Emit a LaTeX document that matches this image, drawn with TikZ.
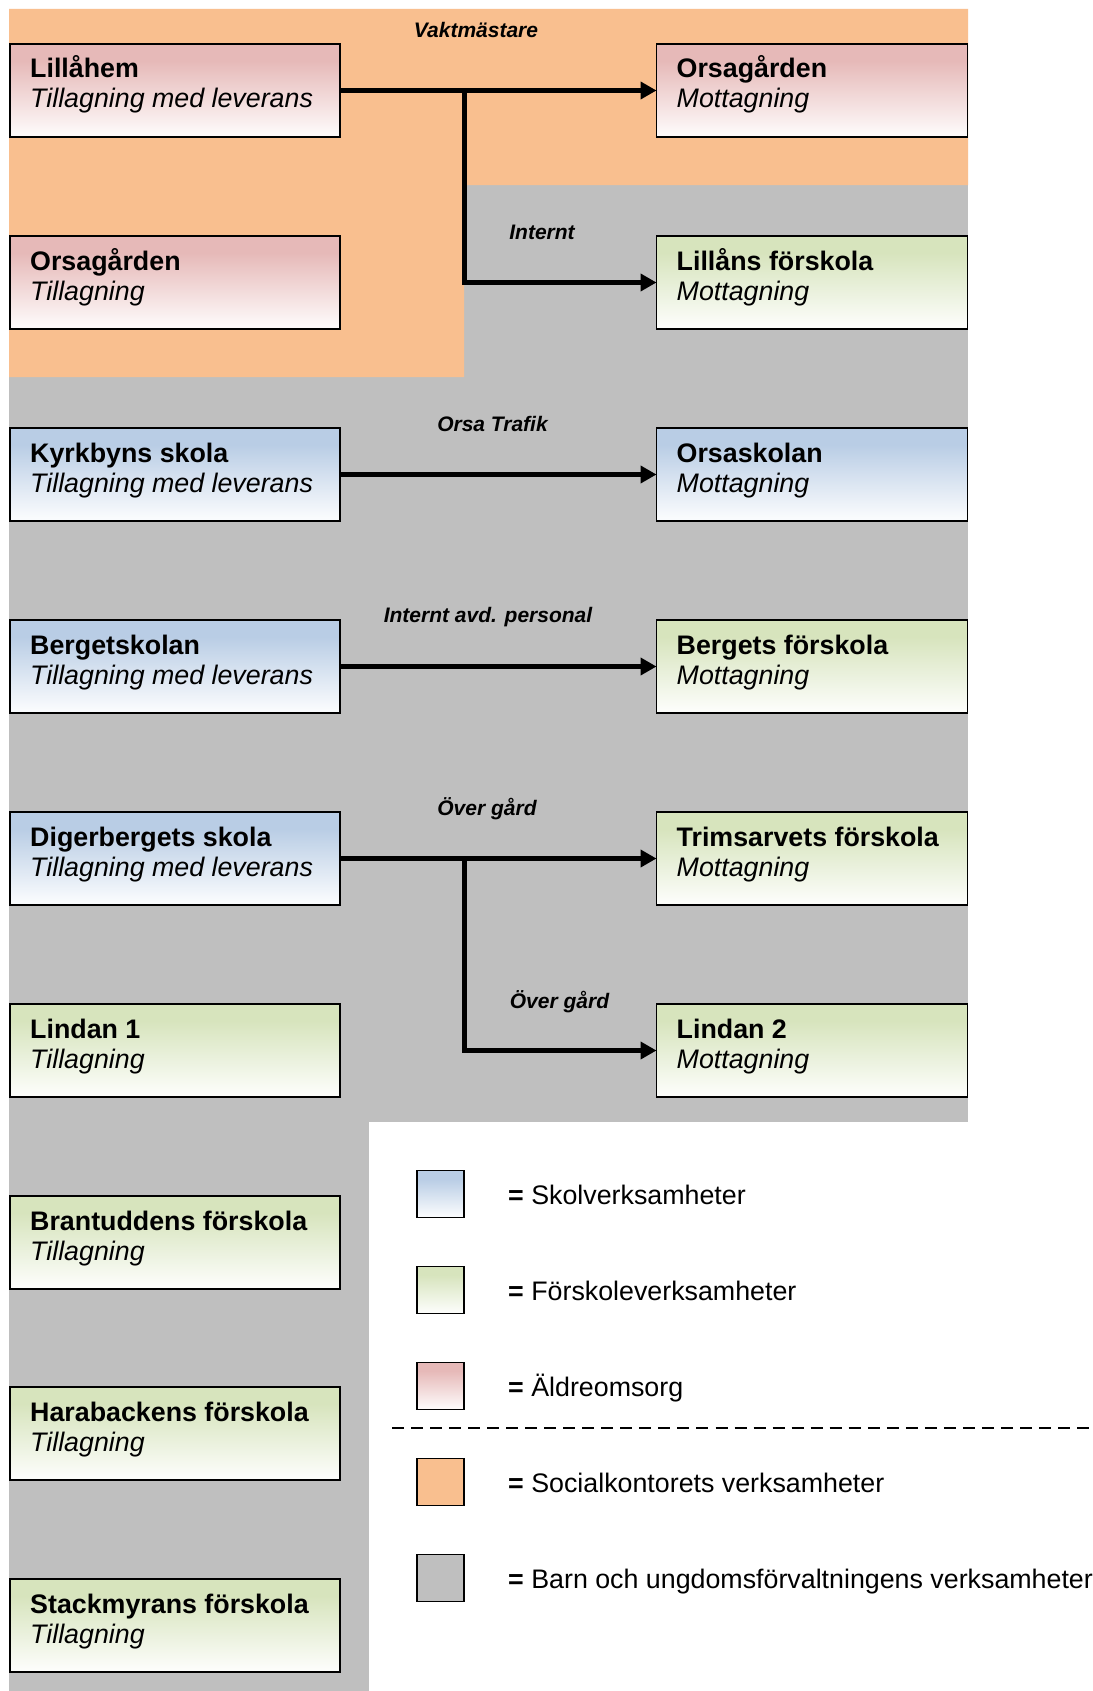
\documentclass[tikz,border=0pt]{standalone}
\usepackage{fontspec}
\setmainfont{Liberation Sans}
\usetikzlibrary{arrows.meta}
\definecolor{pinktop}{HTML}{E6B9B8}
\definecolor{bluetop}{HTML}{B9CDE5}
\definecolor{greentop}{HTML}{D7E4BD}
\definecolor{orangebg}{HTML}{F9BF8F}
\definecolor{graybg}{HTML}{BFBFBF}
\colorlet{pinkbot}{pinktop!8!white}
\colorlet{bluebot}{bluetop!8!white}
\colorlet{greenbot}{greentop!8!white}
\pgfdeclareverticalshading{pinkgrad}{100bp}{color(0bp)=(pinkbot); color(27bp)=(pinkbot); color(66bp)=(pinktop); color(100bp)=(pinktop)}
\pgfdeclareverticalshading{bluegrad}{100bp}{color(0bp)=(bluebot); color(27bp)=(bluebot); color(66bp)=(bluetop); color(100bp)=(bluetop)}
\pgfdeclareverticalshading{greengrad}{100bp}{color(0bp)=(greenbot); color(27bp)=(greenbot); color(66bp)=(greentop); color(100bp)=(greentop)}
\newcommand{\mainsz}{\fontsize{26.8}{30}\selectfont}
\newcommand{\labsz}{\fontsize{21}{24}\selectfont}
\newcommand{\orgbox}[7]{%
  \node[orgrect, minimum width=#4, shading=#5] (#1) at (#2,#3) {};
  \node[titletext] (#1-t) at ([xshift=20pt,yshift=-34pt]#1.north west) {#6};
  \node[subtext] (#1-s) at ([xshift=20pt,yshift=-64pt]#1.north west) {#7};
}
\tikzset{
  orgrect/.style={draw=black, line width=1.8pt, anchor=north west, minimum height=93pt, inner sep=0pt, outer sep=0pt},
  titletext/.style={anchor=base west, inner sep=0pt, font=\mainsz\bfseries},
  subtext/.style={anchor=base west, inner sep=0pt, font=\mainsz\itshape},
  flowlabel/.style={anchor=base, inner sep=0pt, font=\labsz\bfseries\itshape},
  flow/.style={line width=5pt, -{Triangle[length=16pt,width=17pt]}},
  legbox/.style={draw=black, line width=1.8pt, minimum width=47pt, minimum height=47pt, inner sep=0pt, outer sep=0pt},
  legtext/.style={anchor=base west, inner sep=0pt, font=\mainsz},
}
\begin{document}
\begin{tikzpicture}[x=1pt, y=-1pt]
\useasboundingbox (0,0) rectangle (1092,1691);
\fill[white] (0,0) rectangle (1092,1691);
% background regions
\fill[graybg] (9,185) rectangle (968,1122);
\fill[graybg] (9,1122) rectangle (369,1691);
\fill[orangebg] (9,9) -- (968,9) -- (968,185) -- (464,185) -- (464,377) -- (9,377) -- cycle;

% boxes: left column
\orgbox{lilla}{10}{44}{330pt}{pinkgrad}{Lillåhem}{Tillagning med leverans}
\orgbox{orst}{10}{236}{330pt}{pinkgrad}{Orsagården}{Tillagning}
\orgbox{kyrk}{10}{428}{330pt}{bluegrad}{Kyrkbyns skola}{Tillagning med leverans}
\orgbox{berg}{10}{620}{330pt}{bluegrad}{Bergetskolan}{Tillagning med leverans}
\orgbox{diger}{10}{812}{330pt}{bluegrad}{Digerbergets skola}{Tillagning med leverans}
\orgbox{lind1}{10}{1004}{330pt}{greengrad}{Lindan 1}{Tillagning}
\orgbox{brant}{10}{1196}{330pt}{greengrad}{Brantuddens förskola}{Tillagning}
\orgbox{hara}{10}{1387}{330pt}{greengrad}{Harabackens förskola}{Tillagning}
\orgbox{stack}{10}{1579}{330pt}{greengrad}{Stackmyrans förskola}{Tillagning}
% right column
\orgbox{orsm}{656.5}{44}{311pt}{pinkgrad}{Orsagården}{Mottagning}
\orgbox{lillans}{656.5}{236}{311pt}{greengrad}{Lillåns förskola}{Mottagning}
\orgbox{orsas}{656.5}{428}{311pt}{bluegrad}{Orsaskolan}{Mottagning}
\orgbox{bergf}{656.5}{620}{311pt}{greengrad}{Bergets förskola}{Mottagning}
\orgbox{trims}{656.5}{812}{311pt}{greengrad}{Trimsarvets förskola}{Mottagning}
\orgbox{lind2}{656.5}{1004}{311pt}{greengrad}{Lindan 2}{Mottagning}

% connectors
\coordinate (j1) at (464,0 |- lilla.east);
\coordinate (j2) at (464,0 |- diger.east);
\draw[flow] (lilla.east) -- (orsm.west);
\draw[flow] (j1) |- (lillans.west);
\draw[flow] (kyrk.east) -- (orsas.west);
\draw[flow] (berg.east) -- (bergf.west);
\draw[flow] (diger.east) -- (trims.west);
\draw[flow] (j2) |- (lind2.west);

% connector labels
\node[flowlabel] (l1) at (476,38) {Vaktmästare};
\node[flowlabel] (l2) at (542,239) {Internt};
\node[flowlabel] (l3) at (492.5,431) {Orsa Trafik};
\node[flowlabel] (l4) at (488,622.5) {Internt avd. personal};
\node[flowlabel] (l5) at (487,815) {Över gård};
\node[flowlabel] (l6) at (559.5,1008) {Över gård};

% legend
\node[legbox, shading=bluegrad] (lg1) at (440.5,1194) {};
\node[legbox, shading=greengrad] (lg2) at (440.5,1290) {};
\node[legbox, shading=pinkgrad] (lg3) at (440.5,1386) {};
\node[legbox, fill=orangebg] (lg4) at (440.5,1482) {};
\node[legbox, fill=graybg] (lg5) at (440.5,1578) {};
\node[legtext] (lt1) at (508,1204) {\textbf{=} Skolverksamheter};
\node[legtext] (lt2) at (508,1300) {\textbf{=} Förskoleverksamheter};
\node[legtext] (lt3) at (508,1396) {\textbf{=} Äldreomsorg};
\node[legtext] (lt4) at (508,1492) {\textbf{=} Socialkontorets verksamheter};
\node[legtext] (lt5) at (508,1588) {\textbf{=} Barn och ungdomsförvaltningens verksamheter};
\draw[line width=1.5pt, dash pattern=on 12pt off 7.03pt] (392,1428) -- (1089,1428);
\end{tikzpicture}
\end{document}
